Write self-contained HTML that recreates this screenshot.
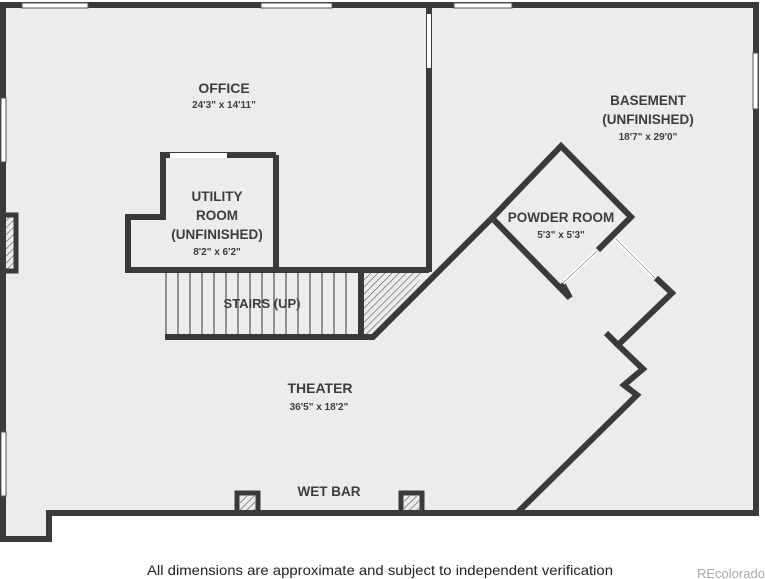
<!DOCTYPE html>
<html><head><style>
html,body{margin:0;padding:0;background:#fff;}
svg{display:block;}
text{font-family:"Liberation Sans","DejaVu Sans",sans-serif;}
</style></head><body>
<svg width="765" height="579" viewBox="0 0 765 579" xmlns="http://www.w3.org/2000/svg">
<defs>
<pattern id="h" width="5" height="5" patternUnits="userSpaceOnUse" patternTransform="rotate(45)">
<rect width="5" height="5" fill="#ececec"/><line x1="0" y1="0" x2="0" y2="5" stroke="#555" stroke-width="1.2"/>
</pattern>
</defs>
<polygon points="3,5 756,5 756,513 49,513 49,539 3,539" fill="#ececec"/>
<polygon points="363,273 426,273 373,335 363,335" fill="url(#h)"/>
<rect x="6" y="217" width="8" height="52" fill="url(#h)"/>
<rect x="240" y="496" width="15" height="15" fill="url(#h)"/>
<rect x="404" y="496" width="15" height="15" fill="url(#h)"/>
<g stroke="#333" stroke-width="1">
<line x1="166" y1="273" x2="166" y2="334"/>
<line x1="178" y1="273" x2="178" y2="334"/><line x1="190" y1="273" x2="190" y2="334"/>
<line x1="202" y1="273" x2="202" y2="334"/><line x1="214" y1="273" x2="214" y2="334"/>
<line x1="226" y1="273" x2="226" y2="334"/><line x1="238" y1="273" x2="238" y2="334"/>
<line x1="250" y1="273" x2="250" y2="334"/><line x1="262" y1="273" x2="262" y2="334"/>
<line x1="274" y1="273" x2="274" y2="334"/><line x1="286" y1="273" x2="286" y2="334"/>
<line x1="298" y1="273" x2="298" y2="334"/><line x1="310" y1="273" x2="310" y2="334"/>
<line x1="322" y1="273" x2="322" y2="334"/><line x1="334" y1="273" x2="334" y2="334"/>
<line x1="346" y1="273" x2="346" y2="334"/>
</g>
<g fill="none" stroke="#3a3a3a" stroke-width="6" stroke-linejoin="miter">
<polygon points="3,5 756,5 756,513 49,513 49,539 3,539"/>
<line x1="429" y1="5" x2="429" y2="272"/>
<polyline points="276,155 163,155 163,217 128,217 128,270 429,270"/>
<line x1="276" y1="155" x2="276" y2="270"/>
<line x1="361" y1="270" x2="361" y2="337"/>
<polyline points="165,337 373,337 490,220"/>
<polyline points="570,298 492,218 561,146 631,217 598,250"/>
<line x1="562" y1="283" x2="570" y2="298"/>
<polyline points="656,278 672,293 618,345 643,369 624,385 637,395 517,513"/>
<line x1="606" y1="333" x2="618" y2="345"/>
<rect x="237" y="493" width="21" height="20" stroke-width="5"/>
<rect x="401" y="493" width="21" height="20" stroke-width="5"/>
<rect x="3" y="215" width="13" height="56" stroke-width="5"/>
</g>
<g fill="#fff" stroke="#555" stroke-width="1">
<rect x="427" y="14" width="4" height="54" stroke="none"/>
<rect x="170" y="153" width="57" height="5" stroke="none"/>
<rect x="22" y="3" width="66" height="5"/>
<rect x="261" y="3" width="71" height="5"/>
<rect x="454" y="3" width="58" height="5"/>
<rect x="1" y="98" width="5" height="64"/>
<rect x="1" y="432" width="5" height="64"/>
<rect x="753" y="53" width="5" height="56"/>
</g>
<line x1="597" y1="251" x2="563" y2="283" stroke="#fff" stroke-width="4"/>
<line x1="597" y1="251" x2="563" y2="283" stroke="#777" stroke-width="0.6"/>
<line x1="616" y1="239" x2="655" y2="278" stroke="#fff" stroke-width="4"/>
<line x1="616" y1="239" x2="655" y2="278" stroke="#777" stroke-width="0.6"/>
<g fill="#3d3d3d" font-weight="bold" text-anchor="middle">
<text x="224" y="93" font-size="14">OFFICE</text>
<text x="224" y="108" font-size="10">24'3" x 14'11"</text>
<text x="217" y="201" font-size="13.5">UTILITY</text>
<text x="217" y="220" font-size="13.5">ROOM</text>
<text x="217" y="239" font-size="13.5">(UNFINISHED)</text>
<text x="217" y="255" font-size="10">8'2" x 6'2"</text>
<text x="262" y="308" font-size="13">STAIRS (UP)</text>
<text x="320" y="393" font-size="14">THEATER</text>
<text x="319" y="410" font-size="10">36'5" x 18'2"</text>
<text x="329" y="496" font-size="13.5">WET BAR</text>
<text x="648" y="105" font-size="13.5">BASEMENT</text>
<text x="648" y="124" font-size="13.5">(UNFINISHED)</text>
<text x="648" y="140" font-size="10">18'7" x 29'0"</text>
<text x="561" y="222" font-size="13.5">POWDER ROOM</text>
<text x="561" y="238" font-size="10">5'3" x 5'3"</text>
</g>
<text x="147" y="575" font-size="14" fill="#222" textLength="466" lengthAdjust="spacingAndGlyphs">All dimensions are approximate and subject to independent verification</text>
<text x="697" y="578" font-size="13" fill="#aaa">REcolorado</text>
</svg>
</body></html>
